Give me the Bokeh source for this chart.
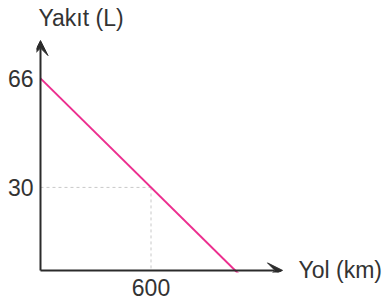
from bokeh.plotting import figure
from bokeh.models import Range1d, Arrow, VeeHead, LinearAxis, FixedTicker
from bokeh.embed import file_html
from bokeh.resources import INLINE

# data
road_km = [0, 1100]
fuel_l = [66, 0]
ref_km = 600
ref_fuel = 30
x_ticks = [600]
y_ticks = [30, 66]
x_label = "Yol (km)"
y_label = "Yakıt (L)"

FONT = "Liberation Sans"
TXT = "#333333"
AX = "#2b2b2b"
FS = "23px"

Y0 = 2.6      # where the horizontal axis is drawn
X_TIP = 1314  # x-arrow tip
Y_TIP = 78.5  # y-arrow tip
YLAB_X = 220  # centre of the y-axis title

p = figure(width=391, height=303, output_backend="svg", toolbar_location=None,
           x_range=Range1d(-21.7, 1390), y_range=Range1d(1.9, 80.5),
           x_axis_location=None, y_axis_location=None,
           min_border_left=36, min_border_right=95, min_border_top=34, min_border_bottom=31)
p.outline_line_color = None
p.grid.visible = False
p.background_fill_color = None
p.border_fill_color = "white"


def style(ax, standoff):
    ax.axis_line_color = None
    ax.major_tick_line_color = None
    ax.minor_tick_line_color = None
    ax.major_tick_out = 0
    ax.major_tick_in = 0
    ax.major_label_text_font = FONT
    ax.major_label_text_font_size = FS
    ax.major_label_text_color = TXT
    ax.major_label_standoff = standoff
    return ax


p.add_layout(style(LinearAxis(ticker=FixedTicker(ticks=y_ticks)), 3), "left")
p.add_layout(style(LinearAxis(ticker=FixedTicker(ticks=x_ticks)), 6), "below")
p.add_layout(style(LinearAxis(ticker=FixedTicker(ticks=[Y0]),
                              major_label_overrides={Y0: x_label}), 2), "right")
p.add_layout(style(LinearAxis(ticker=FixedTicker(ticks=[YLAB_X]),
                              major_label_overrides={YLAB_X: y_label}), 4), "above")

# dashed guides
p.line([0, ref_km], [ref_fuel, ref_fuel], line_color="#c8c8c8", line_dash="3 3", line_width=1)
p.line([ref_km, ref_km], [ref_fuel, Y0], line_color="#c8c8c8", line_dash="3 3", line_width=1)

# main line
p.line(road_km, fuel_l, line_color="#ec2f8f", line_width=2)

# axes arrows
p.add_layout(Arrow(x_start=0, y_start=Y0, x_end=X_TIP, y_end=Y0, line_color=AX, line_width=2,
                   end=VeeHead(size=15, fill_color=AX, line_color=AX, line_width=1)))
p.add_layout(Arrow(x_start=0, y_start=Y0, x_end=0, y_end=Y_TIP, line_color=AX, line_width=2,
                   end=VeeHead(size=15, fill_color=AX, line_color=AX, line_width=1)))

open("out.html", "w").write(file_html(p, INLINE))
